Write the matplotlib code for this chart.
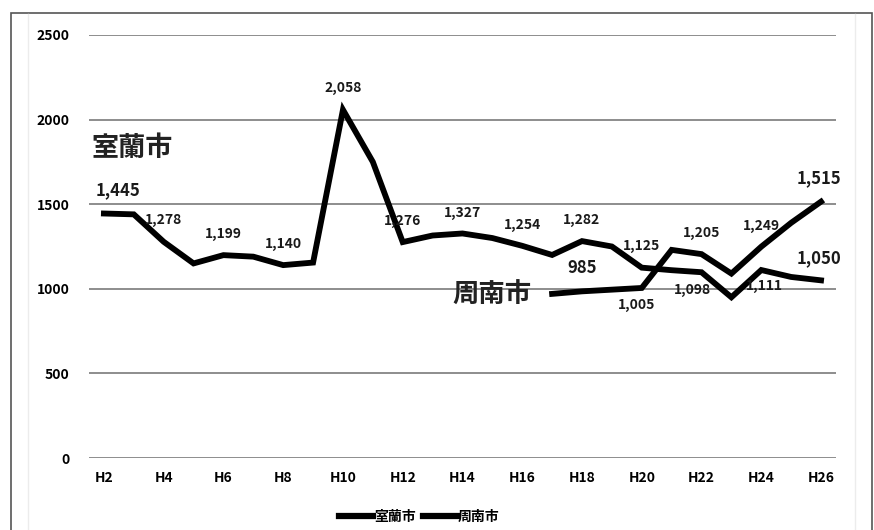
import matplotlib.pyplot as plt
from matplotlib.lines import Line2D
from matplotlib.patches import Rectangle
import numpy as np

plt.rcParams['font.family'] = ['Noto Sans CJK JP', 'DejaVu Sans']

years = ['H%d' % h for h in range(2, 27)]
muroran = [1445, 1440, 1278, 1150, 1199, 1190, 1140, 1155, 2058, 1750,
           1276, 1315, 1327, 1300, 1254, 1200, 1282, 1250, 1125, 1110,
           1098, 950, 1111, 1070, 1050]
shunan_years = years[15:]
shunan = [970, 985, 995, 1005, 1230, 1205, 1090, 1249, 1390, 1515]

# which points get a value label: (year, dx px, dy px, size)
muroran_labels = [('H2', 14, 23, 12), ('H4', 0, 22, 10), ('H6', 0, 21, 10),
                  ('H8', 0, 21, 10), ('H10', 0, 22, 10), ('H12', 0, 21, 10),
                  ('H14', 0, 20, 10), ('H16', 0, 21, 10), ('H18', 0, 21, 10),
                  ('H20', 0, 22, 10), ('H22', -9, -18, 10), ('H24', 3, -16, 10),
                  ('H26', -2, 22, 12)]
shunan_labels = [('H18', 0, 23, 12), ('H20', -5, -17, 10), ('H22', 0, 21, 10),
                 ('H24', 0, 21, 10), ('H26', -2, 23, 12)]

fig = plt.figure(figsize=(8.74, 5.30), dpi=100)
ax = fig.add_axes([0.1018, 0.1358, 0.8547, 0.7982])

xm = np.arange(len(years))
xs = np.arange(15, len(years))
ax.plot(xm, muroran, color='black', lw=4.2, solid_joinstyle='miter', label='室蘭市', zorder=3)
ax.plot(xs, shunan, color='black', lw=4.2, solid_joinstyle='miter', label='周南市', zorder=3)

def put_labels(xv, vals, ylist, specs):
    for yr, dx, dy, size in specs:
        i = ylist.index(yr)
        ax.annotate(f'{vals[i]:,}', (xv[i], vals[i]), xytext=(dx, dy),
                    textcoords='offset pixels', ha='center', va='center',
                    fontsize=size, fontweight='bold', color='#1a1a1a', zorder=4)

put_labels(xm, muroran, years, muroran_labels)
put_labels(xs, shunan, shunan_years, shunan_labels)

ax.text(0.93, 1830, '室蘭市', fontsize=19.5, fontweight='bold', color='#222222',
        ha='center', va='center')
ax.text(13.0, 960, '周南市', fontsize=19, fontweight='bold', color='#222222',
        ha='center', va='center')

ax.set_xlim(-0.5, len(years) - 0.5)
ax.set_ylim(0, 2500)
ax.set_yticks(range(0, 2501, 500))
ax.set_xticks(xm[::2])
ax.set_xticklabels(years[::2])
for lab in ax.get_xticklabels() + ax.get_yticklabels():
    lab.set_fontweight('bold')
    lab.set_fontsize(10)
ax.tick_params(length=0, pad=9)
ax.tick_params(axis='y', pad=14)
ax.grid(axis='y', color='#7a7a7a', lw=1.2)
ax.set_axisbelow(True)
for s in ax.spines.values():
    s.set_visible(False)

leg = ax.legend(loc='center', bbox_to_anchor=(0.442, -0.14), ncol=2, frameon=False,
                prop={'size': 10, 'weight': 'bold'}, handlelength=2.5,
                handletextpad=0.05, columnspacing=0.5)
for h in leg.get_lines():
    h.set_linewidth(4.5)

# outer frame
fig.patches.append(Rectangle((11 / 874, -0.05), 861 / 874, 1.05 - 13 / 530,
                             transform=fig.transFigure, fill=False,
                             edgecolor='#555555', lw=1.2))
for xp in (28, 855):
    fig.lines.append(Line2D([xp / 874, xp / 874], [0, 1 - 14 / 530],
                            transform=fig.transFigure, color='#ececec', lw=1))

fig.savefig('out.png', dpi=100)
